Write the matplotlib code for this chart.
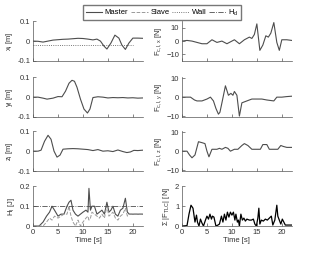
import matplotlib
matplotlib.use("Agg")
import matplotlib.pyplot as plt
import numpy as np

plt.rcParams['font.family'] = ['Liberation Sans', 'DejaVu Sans']
plt.rcParams['font.size'] = 5.5
plt.rcParams['mathtext.fontset'] = 'custom'
plt.rcParams['mathtext.rm'] = 'Liberation Sans'
plt.rcParams['mathtext.it'] = 'Liberation Sans'

# position x_l [m]
t_x = [0, 1, 2, 3, 4, 5, 6, 7, 8, 9, 10, 11, 12, 12.8, 13.5, 14.2, 14.8, 15.6, 16.4, 17.2, 17.8, 18.5, 19.2, 20, 21, 22]
x_l = [0, -0.001, -0.005, 0.0, 0.005, 0.007, 0.009, 0.01, 0.012, 0.014, 0.013, 0.01, 0.006, 0.01, 0.0, -0.025, -0.04, -0.01, 0.03, 0.015, -0.02, -0.042, -0.01, 0.015, 0.015, 0.014]
t_wall = [0, 20]
wall = [-0.02, -0.02]

# y_l [m]
t_y = [0, 1, 2, 2.8, 4, 5, 5.8, 6.5, 7.2, 7.8, 8.3, 8.8, 9.5, 10.2, 10.9, 11.4, 12.0, 13, 14, 15, 16, 17, 18, 19, 20, 21, 22]
y_l = [0, 0, -0.005, -0.01, -0.005, 0.003, 0.002, 0.03, 0.07, 0.085, 0.08, 0.05, -0.01, -0.06, -0.08, -0.06, -0.002, 0.002, 0.0, -0.004, -0.002, -0.003, -0.002, -0.004, -0.003, -0.005, -0.004]

# z_l [m]
t_z = [0, 1, 1.6, 2.3, 3.0, 3.6, 4.2, 4.8, 5.4, 6.0, 7, 8, 9, 10, 11, 12, 13, 14, 15, 16, 17, 18, 18.8, 19.5, 20.2, 21, 22]
z_l = [0, 0, 0.005, 0.05, 0.08, 0.06, 0.0, -0.03, -0.02, 0.01, 0.012, 0.013, 0.012, 0.01, 0.008, 0.003, 0.008, 0.0, 0.002, -0.002, 0.006, -0.002, -0.007, -0.004, 0.004, 0.003, 0.005]

# H_l [J]
t_h = [0, 1.2, 2.0, 2.7, 3.3, 3.8, 4.3, 5.0, 5.6, 6.2, 6.8, 7.2, 7.6, 8.0, 8.5, 9.0, 9.5, 10.0, 10.6, 11.0, 11.2, 11.5, 11.8, 12.3, 12.8, 13.3, 13.8, 14.3, 14.8, 15.2, 15.6, 16.0, 16.5, 17.0, 17.5, 18.0, 18.5, 18.9, 19.3, 20, 21, 22]
h_m = [0, 0, 0.02, 0.05, 0.07, 0.1, 0.08, 0.05, 0.06, 0.06, 0.1, 0.12, 0.13, 0.08, 0.06, 0.05, 0.06, 0.07, 0.08, 0.07, 0.19, 0.08, 0.1, 0.1, 0.06, 0.07, 0.08, 0.06, 0.12, 0.07, 0.08, 0.1, 0.06, 0.05, 0.08, 0.09, 0.14, 0.07, 0.06, 0.06, 0.06, 0.06]
h_s = [0, 0, 0.0, 0.02, 0.04, 0.03, 0.05, 0.04, 0.05, 0.06, 0.06, 0.1, 0.05, 0.02, 0.0, 0.03, 0.0, 0.02, 0.04, 0.05, 0.03, 0.04, 0.07, 0.06, 0.05, 0.04, 0.06, 0.04, 0.1, 0.05, 0.06, 0.07, 0.04, 0.03, 0.05, 0.06, 0.09, 0.05, 0.06, 0.06, 0.06, 0.06]
h_d = 0.1

# contact forces [N]
t_fx = [0, 1, 2, 3, 4, 5, 6, 7, 8, 9, 10, 10.5, 11.5, 12.5, 13.5, 14.0, 14.5, 15.0, 15.6, 16.2, 16.8, 17.3, 17.8, 18.4, 19.0, 19.5, 20.0, 21, 22]
f_x = [0, 0.5, 0, -1, -2, -2, 1, -1, 0, -2, 0, 1, -2, 1, 3, 2, 5, 13, -7, -3, 4, 3, 6, 14, -1, -7, 1, 1, 0.5]

t_fy = [0, 1.7, 2.5, 3.0, 4.0, 5.0, 5.7, 6.3, 6.8, 7.3, 7.6, 8.0, 8.7, 9.3, 9.8, 10.2, 10.5, 11.0, 11.5, 12.0, 13, 14, 15, 16, 17, 18.4, 19, 20, 21, 22]
f_y = [0, 0, -1.5, -2, -2, -1, 0, -2, -6, -9, -8, -3, 6, 1, 2, 1, 3, 1, -10, -3, -2, -1, -1, -1, -1.5, -2, 0, 0, 0.3, 0.5]

t_fz = [0, 1.0, 1.5, 2.0, 2.6, 3.3, 4.0, 4.6, 5.0, 5.4, 6.0, 7, 7.5, 8, 8.7, 9.2, 9.7, 10.5, 11.2, 12.0, 12.5, 13.2, 14.0, 15.0, 15.7, 16.2, 17.0, 17.5, 18.5, 19.2, 19.8, 20.3, 21, 22]
f_z = [0, 0, -2, -3.5, -2, 5, 4.5, 4, 0, -3, 1, 1, 1.5, 1, 2, 1.5, 0, 1, 1, 3, 4, 3, 1, 1, 1, 3.5, 3.5, 1, 1, 1, 3, 2.5, 2, 2]

t_tlc = [0, 1.0, 1.4, 1.8, 2.2, 2.6, 2.9, 3.1, 3.4, 3.7, 4.0, 4.3, 4.7, 5.0, 5.3, 5.6, 5.9, 6.1, 6.4, 6.8, 7.2, 7.5, 7.9, 8.2, 8.5, 8.8, 9.1, 9.4, 9.7, 10.0, 10.3, 10.6, 10.8, 11.1, 11.3, 11.5, 11.8, 12.1, 12.4, 12.7, 13.0, 13.5, 13.9, 14.3, 14.6, 14.9, 15.2, 15.4, 15.6, 15.9, 16.3, 16.7, 17.1, 17.5, 17.9, 18.2, 18.6, 19.0, 19.2, 19.5, 19.8, 20.1, 20.4, 20.7, 21.2, 22]
f_tlc = [0, 0.02, 0.6, 1.05, 0.9, 0.2, 0.55, 0.2, 0.0, 0.35, 0.15, 0.0, 0.3, 0.5, 0.35, 0.6, 0.35, 0.5, 0.45, 0.0, 0.05, 0.1, 0.5, 0.2, 0.6, 0.3, 0.7, 0.45, 0.7, 0.55, 0.7, 0.3, 0.6, 0.2, 0.3, 0.0, 0.6, 0.3, 0.4, 0.25, 0.35, 0.3, 0.3, 0.35, 0.1, 0.0, 0.4, 0.9, 0.1, 0.3, 0.25, 0.35, 0.3, 0.4, 0.5, 0.05, 0.3, 1.05, 0.5, 0.3, 0.1, 0.35, 0.2, 0.05, 0.05, 0.05]

c_master = '#4d4d4d'
c_slave = '#9a9a9a'

fig = plt.figure(figsize=(3.21, 2.56), dpi=100)

lx, rx, w = 0.103, 0.567, 0.342
bottoms = [0.762, 0.543, 0.332, 0.117]
hgt = 0.155

axL = [fig.add_axes([lx, b, w, hgt]) for b in bottoms]
axR = [fig.add_axes([rx, b, w, hgt]) for b in bottoms]

axL[0].plot(t_x, x_l, color=c_master, lw=0.8)
axL[0].plot(t_wall, wall, color=c_master, lw=0.6, ls=':')
axL[1].plot(t_y, y_l, color=c_master, lw=0.8)
axL[2].plot(t_z, z_l, color=c_master, lw=0.8)
for a in axL[:3]:
    a.set_ylim(-0.1, 0.1)
    a.set_yticks([-0.1, 0, 0.1])
    a.set_yticklabels(['-0.1', '0', '0.1'])
axL[0].set_ylabel('x$_l$ [m]')
axL[1].set_ylabel('y$_l$ [m]')
axL[2].set_ylabel('z$_l$ [m]')

axL[3].plot(t_h, h_m, color=c_master, lw=0.8, label='Master')
axL[3].plot(t_h, h_s, color=c_slave, lw=0.7, ls='--', label='Slave')
axL[3].plot([], [], color=c_master, lw=0.6, ls=':', label='Wall')
axL[3].axhline(h_d, color=c_master, lw=0.6, ls='-.', label='H$_d$')
axL[3].set_ylim(0, 0.2)
axL[3].set_yticks([0, 0.1, 0.2])
axL[3].set_yticklabels(['0', '0.1', '0.2'])
axL[3].set_ylabel('H$_l$ [J]')

axR[0].plot(t_fx, f_x, color=c_master, lw=0.8)
axR[0].set_ylim(-15, 15)
axR[1].plot(t_fy, f_y, color=c_master, lw=0.8)
axR[1].set_ylim(-10.5, 10.5)
axR[2].plot(t_fz, f_z, color=c_master, lw=0.8)
axR[2].set_ylim(-10.5, 10.5)
for a in axR[:3]:
    a.set_yticks([-10, 0, 10])
axR[0].set_ylabel('F$_{c,l,x}$ [N]')
axR[1].set_ylabel('F$_{c,l,y}$ [N]')
axR[2].set_ylabel('F$_{c,l,z}$ [N]')

axR[3].plot(t_tlc, f_tlc, color='black', lw=0.9)
axR[3].set_ylim(0, 2)
axR[3].set_yticks([0, 1, 2])
axR[3].set_ylabel('$\\Sigma$ |F$_{TLC}$| [N]')

for a in axL + axR:
    a.set_xlim(0, 22)
    a.set_xticks([0, 5, 10, 15, 20])
    a.spines['top'].set_visible(False)
    a.spines['right'].set_visible(False)
    for s in ['left', 'bottom']:
        a.spines[s].set_color('#555555')
        a.spines[s].set_linewidth(0.5)
    a.tick_params(direction='in', length=2, width=0.5, colors='#555555', labelcolor='#333333', pad=2)
    a.yaxis.label.set_color('#333333')
    a.yaxis.labelpad = 2
for a in axL[:3] + axR[:3]:
    a.set_xticklabels([])
for a in [axL[3], axR[3]]:
    a.set_xlabel('Time [s]', color='#333333', labelpad=1)

fig.legend(*axL[3].get_legend_handles_labels(), loc='upper center', bbox_to_anchor=(0.505, 0.995),
           ncol=4, frameon=True, fancybox=False, edgecolor='#555555', fontsize=5.5,
           handlelength=2.2, columnspacing=0.4, handletextpad=0.3, borderpad=0.3)

fig.savefig('out.png', dpi=100)
